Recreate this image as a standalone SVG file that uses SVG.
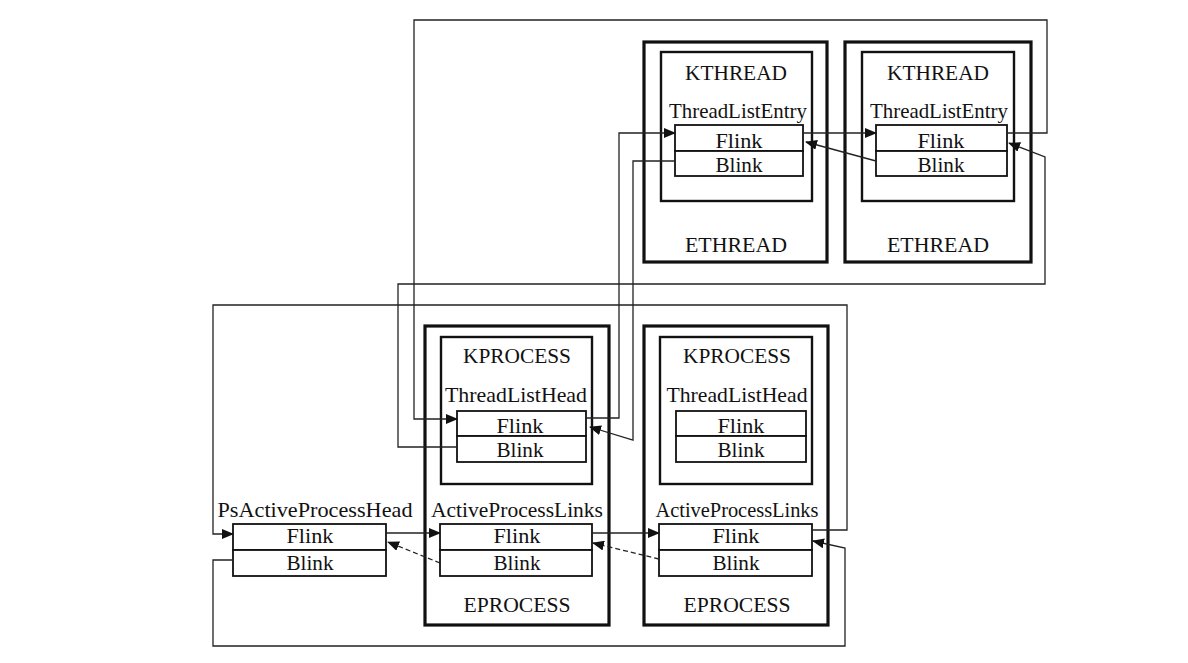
<svg xmlns="http://www.w3.org/2000/svg" width="1188" height="663" viewBox="0 0 1188 663">
<style>
  .outer{fill:none;stroke:#111;stroke-width:3.2}
  .inner{fill:none;stroke:#111;stroke-width:2.4}
  .cell{fill:#fff;stroke:#111;stroke-width:1.8}
  .t{font-family:"Liberation Serif","DejaVu Serif",serif;font-size:21px;fill:#111;text-anchor:middle}
  .c{fill:none;stroke:#222;stroke-width:1.3}
  .d{fill:none;stroke:#222;stroke-width:1.3;stroke-dasharray:5 3}
</style>
<defs>
  <marker id="arr" markerWidth="12" markerHeight="10" refX="11" refY="5" orient="auto" markerUnits="userSpaceOnUse">
    <path d="M0,0 L12,5 L0,10 z" fill="#111"/>
  </marker>
</defs>
<rect width="1188" height="663" fill="#fff"/>

<g id="ethread1">
  <rect class="outer" x="644" y="42" width="183" height="220"/>
  <rect class="inner" x="661" y="52" width="151" height="149"/>
  <text class="t" x="736" y="80" textLength="102" lengthAdjust="spacingAndGlyphs">KTHREAD</text>
  <text class="t" x="738" y="118" textLength="138" lengthAdjust="spacingAndGlyphs">ThreadListEntry</text>
  <rect class="cell" x="675" y="125" width="128" height="26"/>
  <rect class="cell" x="675" y="151" width="128" height="25"/>
  <text class="t" x="739" y="148" textLength="47" lengthAdjust="spacingAndGlyphs">Flink</text>
  <text class="t" x="739" y="172" textLength="47" lengthAdjust="spacingAndGlyphs">Blink</text>
  <text class="t" x="736" y="252" textLength="102" lengthAdjust="spacingAndGlyphs">ETHREAD</text>
</g>

<g id="ethread2">
  <rect class="outer" x="845" y="42" width="186" height="220"/>
  <rect class="inner" x="862" y="52" width="152" height="149"/>
  <text class="t" x="938" y="80" textLength="102" lengthAdjust="spacingAndGlyphs">KTHREAD</text>
  <text class="t" x="939" y="118" textLength="138" lengthAdjust="spacingAndGlyphs">ThreadListEntry</text>
  <rect class="cell" x="876" y="125" width="131" height="26"/>
  <rect class="cell" x="876" y="151" width="131" height="25"/>
  <text class="t" x="941" y="148" textLength="47" lengthAdjust="spacingAndGlyphs">Flink</text>
  <text class="t" x="941" y="172" textLength="47" lengthAdjust="spacingAndGlyphs">Blink</text>
  <text class="t" x="938" y="252" textLength="102" lengthAdjust="spacingAndGlyphs">ETHREAD</text>
</g>

<g id="psActiveProcessHead">
  <text class="t" x="315" y="517" textLength="195" lengthAdjust="spacingAndGlyphs">PsActiveProcessHead</text>
  <rect class="cell" x="233" y="524" width="153" height="26"/>
  <rect class="cell" x="233" y="550" width="153" height="26"/>
  <text class="t" x="310" y="543" textLength="47" lengthAdjust="spacingAndGlyphs">Flink</text>
  <text class="t" x="310" y="570" textLength="47" lengthAdjust="spacingAndGlyphs">Blink</text>
</g>

<g id="eprocess1">
  <rect class="outer" x="425" y="326" width="184" height="299"/>
  <rect class="inner" x="441" y="337" width="151" height="147"/>
  <text class="t" x="517" y="363" textLength="108" lengthAdjust="spacingAndGlyphs">KPROCESS</text>
  <text class="t" x="516" y="402" textLength="142" lengthAdjust="spacingAndGlyphs">ThreadListHead</text>
  <rect class="cell" x="457" y="411" width="129" height="25"/>
  <rect class="cell" x="457" y="436" width="129" height="26"/>
  <text class="t" x="520" y="433" textLength="47" lengthAdjust="spacingAndGlyphs">Flink</text>
  <text class="t" x="520" y="457" textLength="47" lengthAdjust="spacingAndGlyphs">Blink</text>
  <text class="t" x="517" y="517" textLength="172" lengthAdjust="spacingAndGlyphs">ActiveProcessLinks</text>
  <rect class="cell" x="440" y="524" width="152" height="26"/>
  <rect class="cell" x="440" y="550" width="152" height="26"/>
  <text class="t" x="517" y="543" textLength="47" lengthAdjust="spacingAndGlyphs">Flink</text>
  <text class="t" x="517" y="570" textLength="47" lengthAdjust="spacingAndGlyphs">Blink</text>
  <text class="t" x="517" y="612" textLength="107" lengthAdjust="spacingAndGlyphs">EPROCESS</text>
</g>

<g id="eprocess2">
  <rect class="outer" x="644" y="326" width="184" height="299"/>
  <rect class="inner" x="660" y="337" width="152" height="147"/>
  <text class="t" x="737" y="363" textLength="108" lengthAdjust="spacingAndGlyphs">KPROCESS</text>
  <text class="t" x="737" y="402" textLength="141" lengthAdjust="spacingAndGlyphs">ThreadListHead</text>
  <rect class="cell" x="676" y="411" width="130" height="25"/>
  <rect class="cell" x="676" y="436" width="130" height="26"/>
  <text class="t" x="741" y="433" textLength="47" lengthAdjust="spacingAndGlyphs">Flink</text>
  <text class="t" x="741" y="457" textLength="47" lengthAdjust="spacingAndGlyphs">Blink</text>
  <text class="t" x="737" y="517" textLength="163" lengthAdjust="spacingAndGlyphs">ActiveProcessLinks</text>
  <rect class="cell" x="659" y="524" width="153" height="26"/>
  <rect class="cell" x="659" y="550" width="153" height="26"/>
  <text class="t" x="736" y="543" textLength="47" lengthAdjust="spacingAndGlyphs">Flink</text>
  <text class="t" x="736" y="570" textLength="47" lengthAdjust="spacingAndGlyphs">Blink</text>
  <text class="t" x="737" y="612" textLength="107" lengthAdjust="spacingAndGlyphs">EPROCESS</text>
</g>

<g id="connectors">
  <!-- thread list -->
  <path class="c" d="M586,418 H619 V133 H675" marker-end="url(#arr)"/>
  <path class="c" d="M675,161 H633 V440 L590,427" marker-end="url(#arr)"/>
  <path class="c" d="M803,133 H876" marker-end="url(#arr)"/>
  <path class="c" d="M876,161 L806,142" marker-end="url(#arr)"/>
  <path class="c" d="M1007,133 H1047 V20 H414 V419 H457" marker-end="url(#arr)"/>
  <path class="c" d="M457,447 H398 V284 H1045 V157 L1009,143" marker-end="url(#arr)"/>
  <!-- process list -->
  <path class="c" d="M812,530 H847 V305 H213 V534 H233" marker-end="url(#arr)"/>
  <path class="c" d="M233,560 H213 V646 H845 V548 L813,541" marker-end="url(#arr)"/>
  <path class="c" d="M386,533 H440" marker-end="url(#arr)"/>
  <path class="d" d="M440,563 L388,542" marker-end="url(#arr)"/>
  <path class="c" d="M592,533 H659" marker-end="url(#arr)"/>
  <path class="d" d="M659,559 L593,543" marker-end="url(#arr)"/>
</g>
</svg>
